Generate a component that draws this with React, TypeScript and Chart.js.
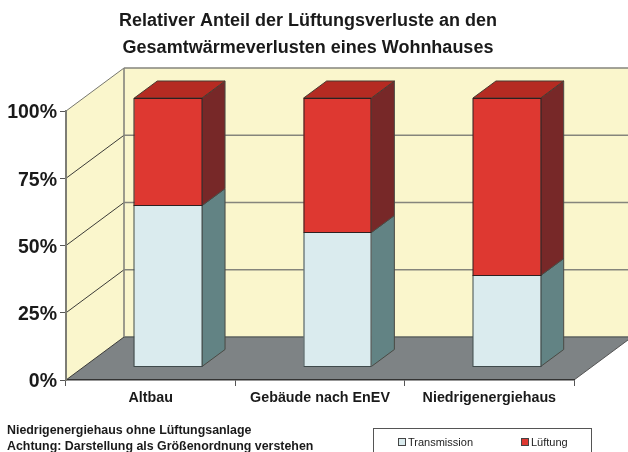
import React, { useEffect, useRef } from "react";
import { Chart, registerables } from "chart.js";

Chart.register(...registerables);

const categories = ["Altbau", "Gebäude nach EnEV", "Niedrigenergiehaus"];
const transmission = [60, 50, 34];
const lueftung = [40, 50, 66];
const yTicks = [0, 25, 50, 75, 100];
const titleLines = ["Relativer Anteil der Lüftungsverluste an den", "Gesamtwärmeverlusten eines Wohnhauses"];
const notes = ["Niedrigenergiehaus ohne Lüftungsanlage", "Achtung: Darstellung als Größenordnung verstehen"];

const FONT = "'Liberation Sans', Arial, sans-serif";
const DEPTH_X = 58;
const DEPTH_Y = 43;
const BAR_SHIFT_X = 17.5;
const BAR_SHIFT_Y = 13;
const BAR_DX = 23;
const BAR_DY = 17;

const poly = (ctx: CanvasRenderingContext2D, pts: number[][], fill: string, stroke?: string, lw = 1) => {
  ctx.beginPath();
  pts.forEach((p, i) => (i ? ctx.lineTo(p[0], p[1]) : ctx.moveTo(p[0], p[1])));
  ctx.closePath();
  ctx.fillStyle = fill;
  ctx.fill();
  if (stroke) {
    ctx.strokeStyle = stroke;
    ctx.lineWidth = lw;
    ctx.stroke();
  }
};

const line = (ctx: CanvasRenderingContext2D, x1: number, y1: number, x2: number, y2: number, color: string, lw: number) => {
  ctx.beginPath();
  ctx.moveTo(x1, y1);
  ctx.lineTo(x2, y2);
  ctx.strokeStyle = color;
  ctx.lineWidth = lw;
  ctx.stroke();
};

const wallsPlugin = {
  id: "walls",
  afterLayout(chart: any) {
    chart.titleBlock.left = 42;
  },
  beforeDraw(chart: any) {
    const { ctx, scales } = chart;
    const y = scales.y;
    const x = scales.x;
    const l = x.left;
    const r = x.right;
    const top = y.getPixelForValue(100);
    const bot = y.getPixelForValue(0);
    const w = chart.width + 20;
    ctx.save();
    ctx.fillStyle = "#fff";
    ctx.fillRect(0, 0, chart.width, chart.height);
    poly(ctx, [[l + DEPTH_X, top - DEPTH_Y], [w, top - DEPTH_Y], [w, bot - DEPTH_Y], [l + DEPTH_X, bot - DEPTH_Y]], "#FAF6CC");
    poly(ctx, [[l, top], [l + DEPTH_X, top - DEPTH_Y], [l + DEPTH_X, bot - DEPTH_Y], [l, bot]], "#FAF6CC");
    poly(ctx, [[l, bot], [l + DEPTH_X, bot - DEPTH_Y], [w, bot - DEPTH_Y], [r + DEPTH_X, bot - DEPTH_Y], [r, bot]], "#7E8385");
    yTicks.forEach((t) => {
      const py = y.getPixelForValue(t);
      if (t > 0) line(ctx, l + DEPTH_X, py - DEPTH_Y, w, py - DEPTH_Y, "#85857c", 1.6);
      else line(ctx, l + DEPTH_X, py - DEPTH_Y, w, py - DEPTH_Y, "#5c6260", 1.4);
      line(ctx, l, py, l + DEPTH_X, py - DEPTH_Y, t === 100 ? "#77776f" : "#3c3c38", 1);
    });
    line(ctx, l + DEPTH_X, top - DEPTH_Y, l + DEPTH_X, bot - DEPTH_Y, "#85857c", 1.6);
    line(ctx, r, bot, r + DEPTH_X, bot - DEPTH_Y, "#555", 1);
    ctx.restore();
  },
  beforeDatasetsDraw(chart: any) {
    const { ctx } = chart;
    ctx.save();
    ctx.translate(BAR_SHIFT_X, -BAR_SHIFT_Y);
    const sides = ["#628384", "#772828"];
    chart.data.datasets.forEach((_: any, di: number) => {
      chart.getDatasetMeta(di).data.forEach((bar: any) => {
        const p = bar.getProps(["x", "y", "base", "width"], true);
        const xr = p.x + p.width / 2;
        const xl = p.x - p.width / 2;
        poly(ctx, [[xr, p.y], [xr + BAR_DX, p.y - BAR_DY], [xr + BAR_DX, p.base - BAR_DY], [xr, p.base]], sides[di], "#4a4a44", 1);
        if (di === chart.data.datasets.length - 1) {
          poly(ctx, [[xl, p.y], [xl + BAR_DX, p.y - BAR_DY], [xr + BAR_DX, p.y - BAR_DY], [xr, p.y]], "#B52B22", "#4a3a30", 1);
        }
      });
    });
  },
  afterDatasetsDraw(chart: any) {
    const { ctx } = chart;
    const edges = ["#3f4a4b", "#2e2020"];
    chart.data.datasets.forEach((_: any, di: number) => {
      chart.getDatasetMeta(di).data.forEach((bar: any) => {
        const p = bar.getProps(["x", "y", "base", "width"], true);
        const xl = Math.round(p.x - p.width / 2 + BAR_SHIFT_X) - BAR_SHIFT_X;
        const xr = Math.round(p.x + p.width / 2 + BAR_SHIFT_X) - BAR_SHIFT_X;
        const yt = Math.floor(p.y) + 0.5;
        const yb = Math.floor(p.base) + 0.5;
        ctx.strokeStyle = edges[di];
        ctx.lineWidth = 1;
        ctx.strokeRect(xl, yt, xr - xl, yb - yt);
      });
    });
    ctx.restore();
  },
  afterDraw(chart: any) {
    const { ctx } = chart;
    ctx.save();
    ctx.fillStyle = "#1a1a1a";
    ctx.textBaseline = "middle";
    ctx.textAlign = "left";
    ctx.font = `bold 12.4px ${FONT}`;
    ctx.fillText(notes[0], 7, 431);
    ctx.fillText(notes[1], 7, 446.5);
    ctx.strokeStyle = "#555";
    ctx.lineWidth = 1;
    ctx.strokeRect(373.5, 428.5, 218, 40);
    ctx.font = `11px ${FONT}`;
    const xs = [398, 521];
    chart.data.datasets.forEach((ds: any, i: number) => {
      ctx.fillStyle = ds.backgroundColor;
      ctx.strokeStyle = "#444";
      ctx.fillRect(xs[i] + 0.5, 438.5, 7, 7);
      ctx.strokeRect(xs[i] + 0.5, 438.5, 7, 7);
      ctx.fillStyle = "#222";
      ctx.fillText(ds.label, xs[i] + 10, 442.5);
    });
    ctx.restore();
  },
};

export default function App() {
  const ref = useRef<HTMLCanvasElement>(null);
  useEffect(() => {
    document.body.style.margin = "0";
    const chart = new Chart(ref.current!, {
      type: "bar",
      data: {
        labels: categories,
        datasets: [
          { label: "Transmission", data: transmission, backgroundColor: "#DAEBEE", borderWidth: 0, clip: false } as any,
          { label: "Lüftung", data: lueftung, backgroundColor: "#DE3831", borderWidth: 0, clip: false } as any,
        ],
      },
      options: {
        animation: false,
        responsive: false,
        layout: { padding: { left: 0, right: 54, top: 0, bottom: 0 } },
        plugins: {
          legend: { display: false },
          tooltip: { enabled: false },
          title: {
            display: true,
            text: titleLines,
            color: "#1a1a1a",
            font: { family: FONT, size: 18, weight: "bold", lineHeight: 1.5 },
            padding: { top: 8, bottom: 49 },
          },
        },
        scales: {
          x: {
            stacked: true,
            afterFit: (s: any) => { s.height = 72; },
            grid: { drawOnChartArea: false, color: "#555", tickLength: 6, lineWidth: 1 },
            border: { color: "#333", width: 1.5 },
            ticks: { color: "#1a1a1a", font: { family: FONT, size: 14.3, weight: "bold" }, padding: 3, maxRotation: 0 },
          } as any,
          y: {
            stacked: true,
            min: 0,
            max: 100,
            afterFit: (s: any) => { s.width = 66; },
            afterBuildTicks: (s: any) => { s.ticks = yTicks.map((value) => ({ value })); },
            grid: { drawOnChartArea: false, color: "#555", tickLength: 6 },
            border: { color: "#7d7d75", width: 2 },
            ticks: { color: "#1a1a1a", font: { family: FONT, size: 19.5, weight: "bold" }, padding: 3, labelOffset: 2, callback: (v: any) => `${v}%` },
          } as any,
        },
        datasets: { bar: { categoryPercentage: 1, barPercentage: 0.4 } },
      } as any,
      plugins: [wallsPlugin],
    });
    return () => chart.destroy();
  }, []);
  return <canvas ref={ref} width={628} height={452} style={{ display: "block" }} />;
}
